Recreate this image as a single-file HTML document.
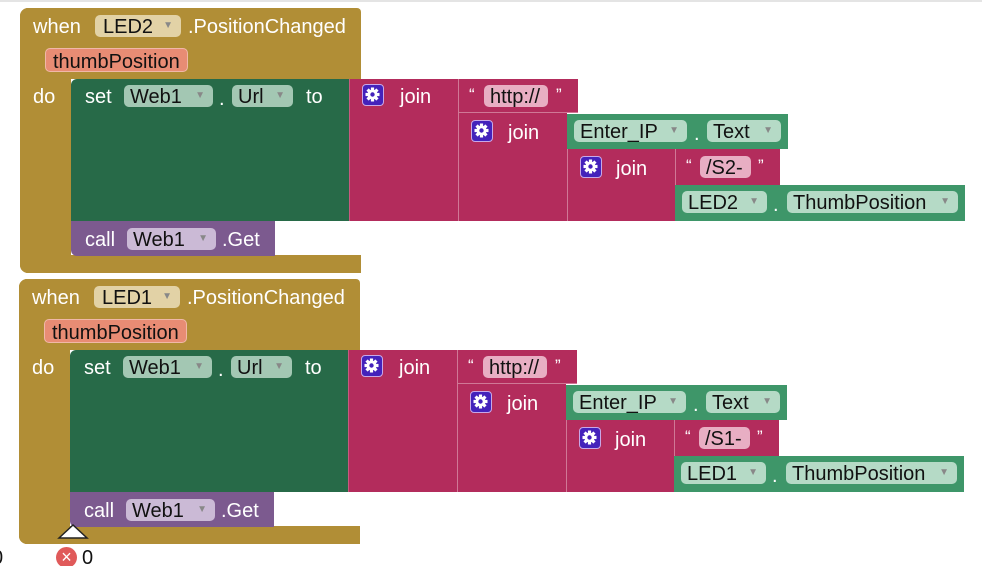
<!DOCTYPE html>
<html><head><meta charset="utf-8">
<style>
html,body{margin:0;padding:0;background:#fff;width:982px;height:566px;overflow:hidden;position:relative;font-family:"Liberation Sans",Arial,sans-serif;}
.topline{position:absolute;left:0;top:0;width:982px;height:2px;background:#e4e4e4;}
.r{position:absolute;box-sizing:border-box;}
.t{position:absolute;font-size:20px;color:#fff;line-height:22px;white-space:nowrap;}
.f{position:absolute;box-sizing:border-box;border-radius:5px;font-size:20px;line-height:22px;color:#111;padding-left:6px;white-space:nowrap;}
.f .a{position:absolute;right:8px;top:0;font-size:10px;color:#888;}
.gear{position:absolute;width:22px;height:22px;box-sizing:border-box;border-radius:4px;background:#4422bb;border:1.5px solid #c8a8e8;}
.q{position:absolute;color:#fff;font-size:17px;line-height:16px;}
</style></head><body>
<div class="topline"></div>
<div id="c"></div>
<div class="t" style="left:-8px;top:547px;color:#111;">0</div>
<div class="r" style="left:56px;top:547px;width:21px;height:21px;border-radius:50%;background:#e05a5a;color:#fff;font-size:18px;line-height:20px;text-align:center;">×</div>
<div class="t" style="left:82px;top:547px;color:#111;">0</div>
<svg style="position:absolute;left:56px;top:522px" width="34" height="18"><polygon points="3,16 17,3 31,16" fill="#fff" stroke="#222" stroke-width="1.5"/></svg>
<script>
function gear(x,y){return '<div class="gear" style="left:'+x+'px;top:'+y+'px"><svg width="19" height="19" viewBox="0 0 19 19"><g fill="#fff" transform="translate(9.5,9.5)"><circle r="5"/><rect x="-1.6" y="-7" width="3.2" height="14"/><rect x="-7" y="-1.6" width="14" height="3.2"/><rect x="-1.6" y="-7" width="3.2" height="14" transform="rotate(45)"/><rect x="-1.6" y="-7" width="3.2" height="14" transform="rotate(-45)"/></g><circle cx="9.5" cy="9.5" r="2.2" fill="#4422bb"/></svg></div>';}
function R(x,y,w,h,c,ex){return '<div class="r" style="left:'+x+'px;top:'+y+'px;width:'+w+'px;height:'+h+'px;background:'+c+';'+(ex||'')+'"></div>';}
function T(x,y,s,ex){return '<div class="t" style="left:'+x+'px;top:'+(y+2)+'px;'+(ex||'')+'">'+s+'</div>';}
function F(x,y,w,h,c,s,arrow,ex){return '<div class="f" style="left:'+x+'px;top:'+y+'px;width:'+w+'px;height:'+h+'px;background:'+c+';line-height:'+(h+2)+'px;'+(ex||'')+'">'+s+(arrow?'<span class="a" style="line-height:'+h+'px">▼</span>':'')+'</div>';}
function block(dx,dy,led,s){
 var G='#b18e36',DG='#276a48',MG='#3e9669',M='#b32c5c',P='#7c5a8f';
 var h='<div style="position:absolute;left:'+dx+'px;top:'+dy+'px;">';
 h+=R(20,8,341,71,G,'border-radius:8px 4px 0 0');
 h+=R(20,8,51,265,G,'border-radius:8px 0 0 8px');
 h+=R(20,255,341,18,G,'border-radius:0 0 0 8px');
 h+=T(33,14,'when');
 h+=F(95,15,86,22,'#e2d2a6',led,true,'padding-left:8px');
 h+=T(188,14,'.PositionChanged');
 h+=F(45,48,143,24,'#e88c74','thumbPosition',false,'border:1.5px solid #f0b8a8;padding-left:7px');
 h+=T(33,84,'do');
 h+=R(71,79,278,142,DG,'border-radius:6px 0 0 0');
 h+=T(85,84,'set');
 h+=F(124,85,89,22,'#a3c7b3','Web1',true);
 h+=T(219,86,'.');
 h+=F(232,85,61,22,'#a3c7b3','Url',true);
 h+=T(306,84,'to');
 h+=R(71,221,204,35,P,'border-radius:0 0 0 6px');
 h+=T(85,227,'call');
 h+=F(127,228,89,22,'#cbbad6','Web1',true);
 h+=T(222,227,'.Get');
 h+=R(349,79,109,142,M,'border-left:1px solid #c85a80');
 h+=gear(362,84);h+=T(400,84,'join');
 h+=R(458,79,120,34,M,'border-left:1px solid #d07896;border-bottom:1px solid #d07896');
 h+='<div class="q" style="left:469px;top:87px">“</div>';
 h+=F(484,85,64,22,'#e8aec3','http://',false);
 h+='<div class="q" style="left:556px;top:87px">”</div>';
 h+=R(458,113,109,108,M,'border-left:1px solid #d07896');
 h+=gear(471,120);h+=T(508,120,'join');
 h+=R(567,114,221,35,MG);
 h+=F(574,120,113,22,'#b5dac6','Enter_IP',true);
 h+=T(694,121,'.');
 h+=F(707,120,74,22,'#b5dac6','Text',true);
 h+=R(567,149,108,72,M,'border-left:1px solid #d07896');
 h+=gear(580,156);h+=T(616,156,'join');
 h+=R(675,149,105,36,M,'border-left:1px solid #d07896');
 h+='<div class="q" style="left:686px;top:158px">“</div>';
 h+=F(700,156,51,22,'#e8aec3',s,false);
 h+='<div class="q" style="left:758px;top:158px">”</div>';
 h+=R(675,185,290,36,MG);
 h+=F(682,191,85,22,'#b5dac6',led,true);
 h+=T(773,192,'.');
 h+=F(787,191,171,22,'#b5dac6','ThumbPosition',true);
 h+='</div>';
 return h;
}
document.getElementById('c').innerHTML=block(0,0,'LED2','/S2-')+block(-1,271,'LED1','/S1-');
</script>
</body></html>
